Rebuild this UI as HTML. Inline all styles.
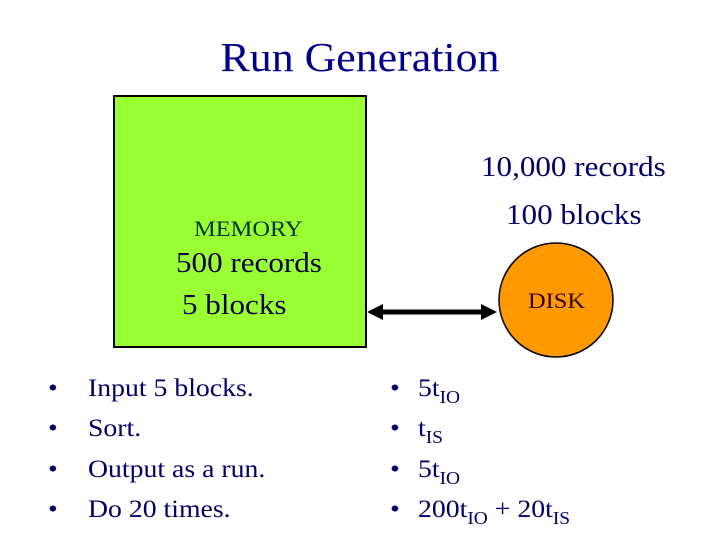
<!DOCTYPE html>
<html><head><meta charset="utf-8"><style>
body{margin:0;width:720px;height:540px;background:#fff;position:relative;overflow:hidden;font-family:"Liberation Serif",serif;color:#000066}
.t{position:absolute;white-space:nowrap;transform:scaleX(1.11);transform-origin:0 0}
sub{font-size:70%;vertical-align:-0.4em;line-height:0}
</style></head><body>
<div class="t" style="left:0;width:720px;text-align:center;top:33px;font-size:41px;color:#00008b;transform-origin:360px 0;transform:scaleX(1.07)">Run Generation</div>
<div style="position:absolute;left:113px;top:95px;width:250px;height:249px;background:#99ff33;border:2px solid #000"></div>
<div class="t" style="left:194px;top:216px;font-size:22px;color:#003333">MEMORY</div>
<div class="t" style="left:176px;top:248px;font-size:28px;color:#000044">500 records</div>
<div class="t" style="left:182px;top:290px;font-size:28px;color:#000044">5 blocks</div>
<div class="t" style="left:481px;top:152px;font-size:28px">10,000 records</div>
<div class="t" style="left:506px;top:200px;font-size:28px">100 blocks</div>
<svg style="position:absolute;left:0;top:0" width="720" height="540">
<circle cx="556" cy="300" r="57" fill="#ff9900" stroke="#000" stroke-width="1.5"/>
<line x1="380" y1="312" x2="484" y2="312" stroke="#000" stroke-width="5"/>
<polygon points="367,312 383,304 383,320" fill="#000"/>
<polygon points="497,312 481,304 481,320" fill="#000"/>
</svg>
<div class="t" style="left:528px;top:288px;font-size:22px;color:#330000">DISK</div>
<div class="t" style="left:48px;top:369px;font-size:25px;line-height:40.3px">•<br>•<br>•<br>•</div>
<div class="t" style="left:88px;top:369px;font-size:25px;line-height:40.3px">Input 5 blocks.<br>Sort.<br>Output as a run.<br>Do 20 times.</div>
<div class="t" style="left:390px;top:369px;font-size:25px;line-height:40.3px">•<br>•<br>•<br>•</div>
<div class="t" style="left:418px;top:369px;font-size:25px;line-height:40.3px">5t<sub>IO</sub><br>t<sub>IS</sub><br>5t<sub>IO</sub><br>200t<sub>IO</sub> + 20t<sub>IS</sub></div>
</body></html>
